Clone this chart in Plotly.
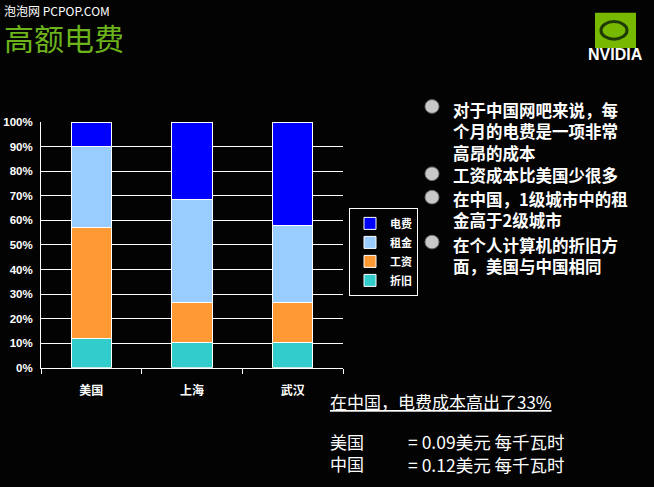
"""
高额电费：美国、上海、武汉网吧每月成本构成（百分比堆叠柱状图）。
"""

import plotly.graph_objects as go

# 颜色方案
BG_COLOR = "#030303"
TITLE_GREEN = "#6cb31c"
FONT_CN = "Noto Sans CJK SC, Liberation Sans, sans-serif"
FONT_EN = "Liberation Sans, Noto Sans CJK SC, sans-serif"

# 城市类别
CIUDADES = ["美国", "上海", "武汉"]

# 各项成本占比（%），自下而上堆叠
ZHEJIU = [12, 10.5, 10.5]
GONGZI = [45, 16, 16]
ZUJIN = [33, 42, 31.5]
DIANFEI = [10, 31.5, 42]

# 系列名称与颜色
SERIES = [
    ("折旧", ZHEJIU, "#33cccc"),
    ("工资", GONGZI, "#ff9933"),
    ("租金", ZUJIN, "#99ccff"),
    ("电费", DIANFEI, "#0000ff"),
]

# 右侧要点
PUNTOS = [
    ["对于中国网吧来说，每", "个月的电费是一项非常", "高昂的成本"],
    ["工资成本比美国少很多"],
    ["在中国，1级城市中的租", "金高于2级城市"],
    ["在个人计算机的折旧方", "面，美国与中国相同"],
]

# 电价对比
PAISES = ["美国", "中国"]
PRECIOS = ["= 0.09美元 每千瓦时", "= 0.12美元 每千瓦时"]

W, H = 654, 487


def px(x):
    return x / W


def py(y):
    return 1 - y / H


fig = go.Figure()

for nombre, valores, color in SERIES:
    fig.add_trace(
        go.Bar(
            x=CIUDADES,
            y=valores,
            name=nombre,
            marker_color=color,
            marker_line_color="#FFFFFF",
            marker_line_width=1,
            width=0.4,
        )
    )

fig.update_xaxes(
    domain=[px(41), px(343)],
    ticks="outside",
    tickson="boundaries",
    ticklen=5,
    tickcolor="#FFFFFF",
    ticklabelstandoff=12,
    showline=True,
    linecolor="#FFFFFF",
    linewidth=1,
    showgrid=False,
    tickfont=dict(family=FONT_CN, size=12, color="#FFFFFF", weight="bold"),
)

# 刻度线透明，只用来把标签往左推
fig.update_yaxes(
    domain=[py(371), py(119)],
    range=[0, 100],
    dtick=10,
    ticksuffix="%",
    ticks="outside",
    ticklen=5,
    tickcolor="rgba(0,0,0,0)",
    showline=True,
    linecolor="#FFFFFF",
    linewidth=1,
    showgrid=True,
    gridcolor="#FFFFFF",
    gridwidth=1,
    zeroline=False,
    tickfont=dict(family=FONT_EN, size=11.5, color="#FFFFFF", weight="bold"),
)

anotaciones = [
    dict(
        x=px(3), y=py(5), text="泡泡网 PCPOP.COM",
        font=dict(family=FONT_CN, size=12, color="#FFFFFF"),
        xanchor="left", yanchor="middle", borderpad=0,
    ),
    dict(
        x=px(3), y=py(32), text="高额电费",
        font=dict(family=FONT_CN, size=30, color=TITLE_GREEN),
        xanchor="left", yanchor="middle", borderpad=0,
    ),
    dict(
        x=px(615), y=py(50), text="<b>NVIDIA</b>",
        font=dict(family=FONT_EN, size=16, color="#FFFFFF"),
        xanchor="center", yanchor="middle",
    ),
    dict(
        x=px(328), y=py(405), text="<u>在中国，电费成本高出了33%</u>",
        font=dict(family=FONT_CN, size=17, color="#FFFFFF"),
        xanchor="left", yanchor="middle",
    ),
    dict(
        x=px(328), y=py(458), text="<br>".join(PAISES),
        font=dict(family=FONT_CN, size=17, color="#FFFFFF"),
        xanchor="left", yanchor="middle", align="left",
    ),
    dict(
        x=px(406), y=py(458), text="<br>".join(PRECIOS),
        font=dict(family=FONT_CN, size=17.5, color="#FFFFFF"),
        xanchor="left", yanchor="middle", align="left",
    ),
]

formas = [
    # 标志方块
    dict(type="rect", xref="paper", yref="paper",
         x0=px(595), x1=px(636), y0=py(43), y1=py(7),
         fillcolor="#76b900", line_width=0),
    dict(type="circle", xref="paper", yref="paper",
         x0=px(601), x1=px(627), y0=py(34), y1=py(16),
         fillcolor="rgba(0,0,0,0)", line=dict(color="#1f3a05", width=3)),
]

# 要点：(项目符号中心, 文字块中心)
POSICIONES = [(103, 129), (172, 173), (196, 209), (242, 255.5)]

for punto, (yb, yt) in zip(PUNTOS, POSICIONES):
    formas.append(
        dict(type="circle", xref="paper", yref="paper",
             x0=px(425), x1=px(439), y0=py(yb + 7), y1=py(yb - 7),
             fillcolor="#c8c8c8", line=dict(color="#707070", width=1))
    )
    anotaciones.append(
        dict(x=px(452), y=py(yt), text="<br>".join(punto),
             font=dict(family=FONT_CN, size=16.5, color="#FFFFFF", weight="bold"),
             xanchor="left", yanchor="middle", align="left", borderpad=0)
    )

for a in anotaciones:
    a.update(xref="paper", yref="paper", showarrow=False)

fig.update_layout(
    width=W,
    height=H,
    barmode="stack",
    bargap=0.6,
    paper_bgcolor=BG_COLOR,
    plot_bgcolor=BG_COLOR,
    margin=dict(l=0, r=0, t=0, b=0),
    showlegend=True,
    legend=dict(
        x=px(349), y=py(207), xanchor="left", yanchor="top",
        traceorder="reversed",
        bgcolor=BG_COLOR,
        bordercolor="#FFFFFF",
        borderwidth=1,
        font=dict(family=FONT_CN, size=11, color="#FFFFFF", weight="bold"),
        itemwidth=30,
        tracegroupgap=0,
    ),
    annotations=anotaciones,
    shapes=formas,
)

# 去掉页面默认边距，使图表与窗口对齐
fig.write_html(
    "out.html",
    config={"displayModeBar": False},
    post_script="document.body.style.margin='0';document.body.style.background='#030303';",
)
